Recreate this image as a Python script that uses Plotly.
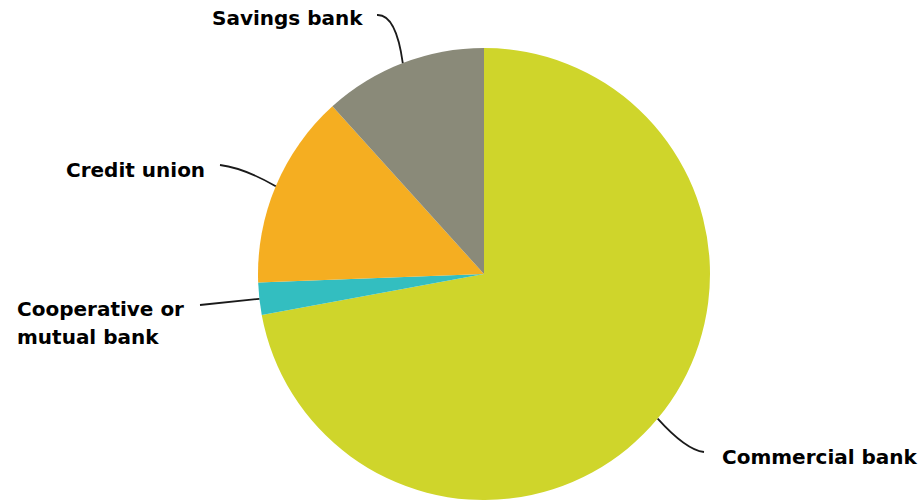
import math
import plotly.graph_objects as go

# Share of institutions by type
categories = ["Commercial bank", "Cooperative or mutual bank", "Credit union", "Savings bank"]
shares = [72.1, 2.3, 13.9, 11.7]
colors = ["#CFD52B", "#33BEC0", "#F5AE21", "#8A8A79"]

W, H = 924, 500
CX, CY, R = 484, 274, 226  # pie centre and radius in pixels

# Label text lines, anchor and leader-line end/control points (pixels)
label_layout = {
    "Commercial bank": dict(lines=["Commercial bank"], x=720, y=457, xanchor="left",
                            end=(704, 452), ctrl=(686, 450)),
    "Cooperative or mutual bank": dict(lines=["Cooperative or", "mutual bank"], x=15, y=309,
                                       xanchor="left", end=(200, 305), ctrl=(230, 302)),
    "Credit union": dict(lines=["Credit union"], x=207, y=170, xanchor="right",
                         end=(220, 165), ctrl=(244, 168)),
    "Savings bank": dict(lines=["Savings bank"], x=365, y=18, xanchor="right",
                         end=(377, 15), ctrl=(396, 14)),
}
LINE_GAP = 28


def px(x):
    return x / W


def py(y):
    return 1 - y / H


fig = go.Figure(go.Pie(
    labels=categories,
    values=shares,
    marker=dict(colors=colors, line=dict(width=0)),
    sort=False,
    direction="clockwise",
    rotation=0,
    textinfo="none",
    hoverinfo="label+percent",
    showlegend=False,
    domain=dict(x=[(CX - R) / W, (CX + R) / W], y=[(H - CY - R) / H, (H - CY + R) / H]),
))

total = sum(shares)
start = 0.0
shapes, annotations = [], []
for name, val in zip(categories, shares):
    sweep = 360.0 * val / total
    mid = math.radians(start + sweep / 2)
    start += sweep
    ex = CX + R * math.sin(mid)
    ey = CY - R * math.cos(mid)
    lay = label_layout[name]
    (lx, ly), (qx, qy) = lay["end"], lay["ctrl"]
    path = (f"M {px(ex):.5f},{py(ey):.5f} Q {px(qx):.5f},{py(qy):.5f} "
            f"{px(lx):.5f},{py(ly):.5f}")
    shapes.append(dict(type="path", path=path, xref="paper", yref="paper",
                       line=dict(color="#1a1a1a", width=1.8)))
    for i, line in enumerate(lay["lines"]):
        annotations.append(dict(
            text=f"<b>{line}</b>", x=px(lay["x"]), y=py(lay["y"] + i * LINE_GAP),
            xref="paper", yref="paper", xanchor=lay["xanchor"], yanchor="middle",
            align="left", showarrow=False,
            font=dict(family="DejaVu Sans", size=20, color="#000000"),
        ))

fig.update_layout(
    width=W, height=H,
    margin=dict(l=0, r=0, t=0, b=0),
    paper_bgcolor="white",
    plot_bgcolor="white",
    shapes=shapes,
    annotations=annotations,
)

fig.write_html("out.html")
